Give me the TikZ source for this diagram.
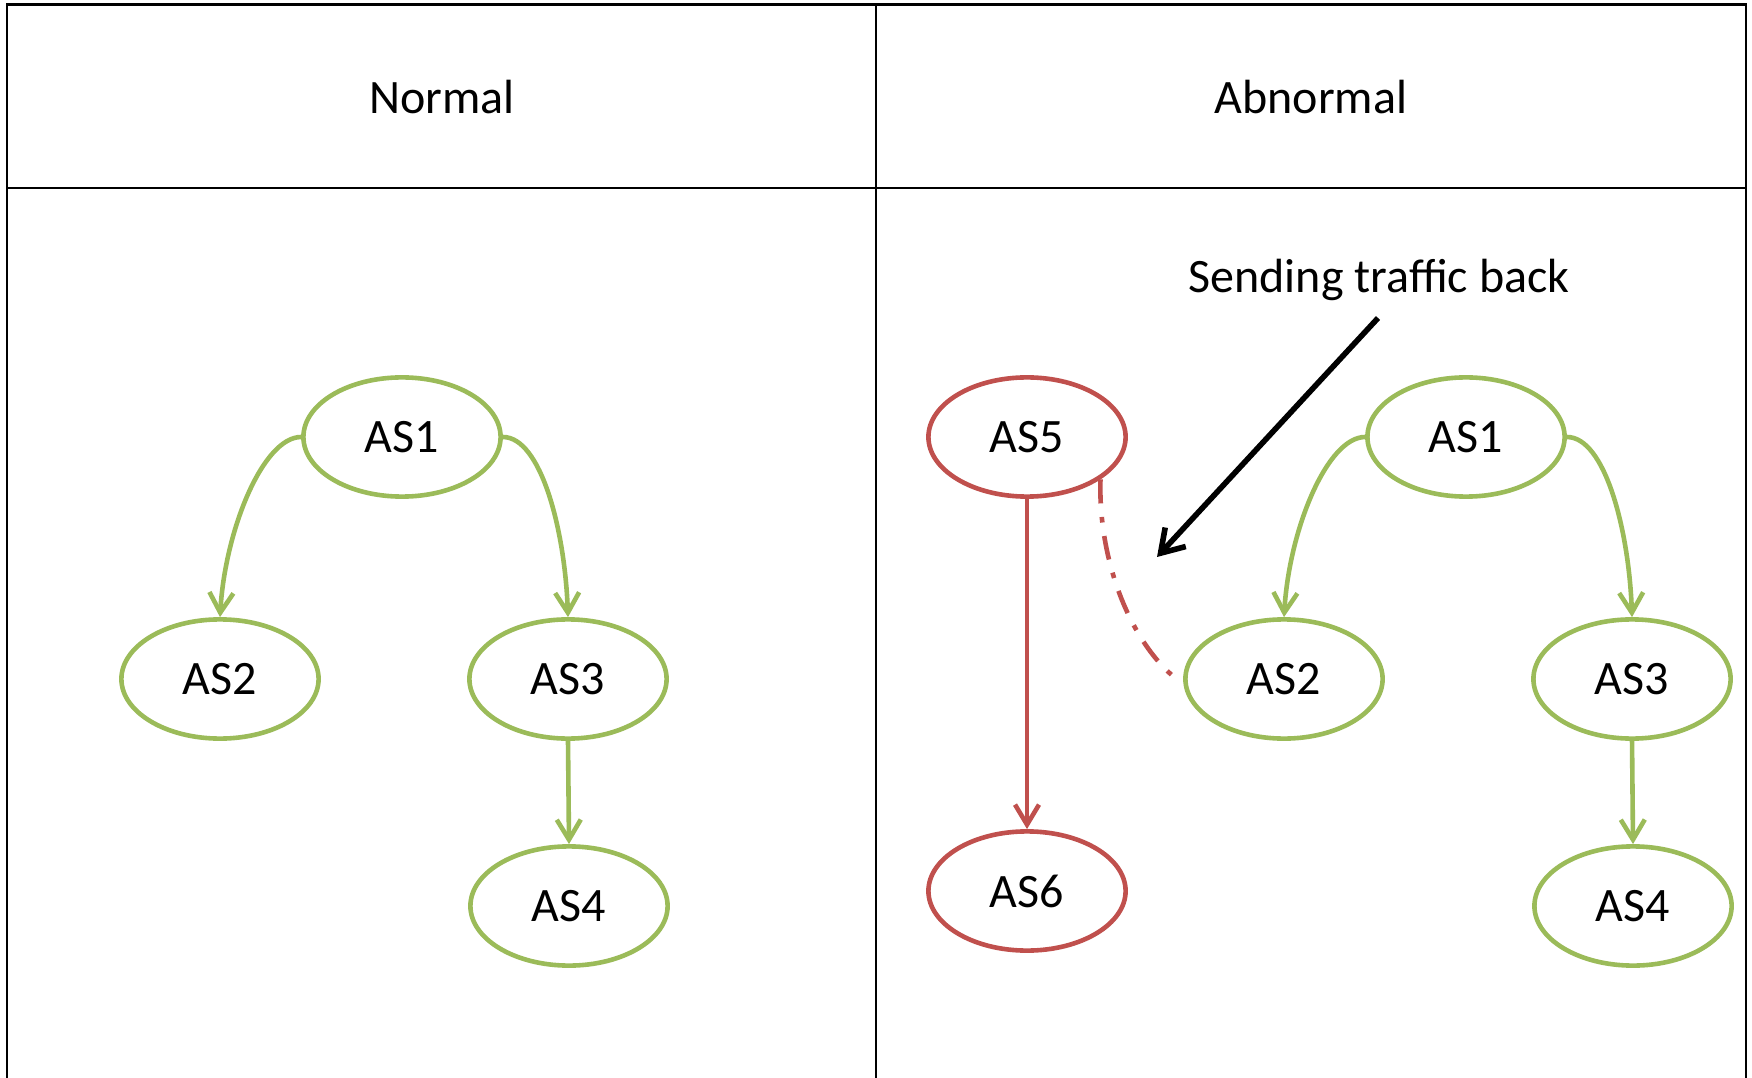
\documentclass[tikz,border=0pt]{standalone}
\usepackage{fontspec}
\setmainfont{Carlito}
\usetikzlibrary{arrows.meta,shapes.geometric}
\definecolor{asgreen}{HTML}{9BBB59}
\definecolor{asred}{HTML}{C0504D}

\begin{document}
\begin{tikzpicture}[x=0.25pt,y=-0.25pt,
  every node/.style={font=\fontsize{12}{14}\selectfont},
  asnode/.style={ellipse, draw, line width=1.15pt, minimum width=49.3pt,
                 minimum height=29.8pt, inner sep=0pt},
  okas/.style={asnode, draw=asgreen},
  badas/.style={asnode, draw=asred},
  tip/.style={-{Straight Barb[length=5pt,width=6pt]}},
  oklink/.style={tip, line width=1.15pt, draw=asgreen},
  badlink/.style={tip, line width=1.15pt, draw=asred},
  gridline/.style={line width=0.72pt}]

\useasboundingbox (0,0) rectangle (1752,1078);

% table frame
\draw[gridline] (7,1078) -- (7,4.5) -- (1746,4.5) -- (1746,1078);
\draw[gridline] (7,188) -- (1746,188);
\draw[gridline] (876,4.5) -- (876,1078);

% column headings
\node (hnormal) at (442,97) {Normal};
\node (habnormal) at (1311,97) {Abnormal};

% normal routing
\node[okas] (n1) at (402,437) {AS1};
\node[okas] (n2) at (220,679) {AS2};
\node[okas] (n3) at (568,679) {AS3};
\node[okas] (n4) at (569,906) {AS4};
\draw[oklink] (n1.west) .. controls +(-38,0) and +(5,-87) .. (n2.north);
\draw[oklink] (n1.east) .. controls +(38,0) and +(-3,-87) .. (n3.north);
\draw[oklink] (n3.south) -- (n4.north);

% abnormal routing
\node[badas] (b5) at (1027,437) {AS5};
\node[badas] (b6) at (1027,891) {AS6};
\node[okas] (m1) at (1466,437) {AS1};
\node[okas] (m2) at (1284,679) {AS2};
\node[okas] (m3) at (1632,679) {AS3};
\node[okas] (m4) at (1633,906) {AS4};
\draw[oklink] (m1.west) .. controls +(-38,0) and +(5,-87) .. (m2.north);
\draw[oklink] (m1.east) .. controls +(38,0) and +(-3,-87) .. (m3.north);
\draw[oklink] (m3.south) -- (m4.north);
\draw[badlink] (b5.south) -- (b6.north);

% traffic returned towards AS2
\coordinate (backend) at (1174,677);
\draw[asred, line width=1.15pt, dash pattern=on 6pt off 3.4pt on 1.4pt off 3.4pt]
  (b5.-30) .. controls (1098,560) and (1130,640) .. (backend);

% annotation
\node (note) at (1379,280) {Sending traffic back};
\coordinate (notetail) at (1378,318);
\coordinate (notehead) at (1157,557);
\draw[line width=1.4pt, -{Straight Barb[length=5.5pt,width=7pt]}] (notetail) -- (notehead);

\end{tikzpicture}
\end{document}
